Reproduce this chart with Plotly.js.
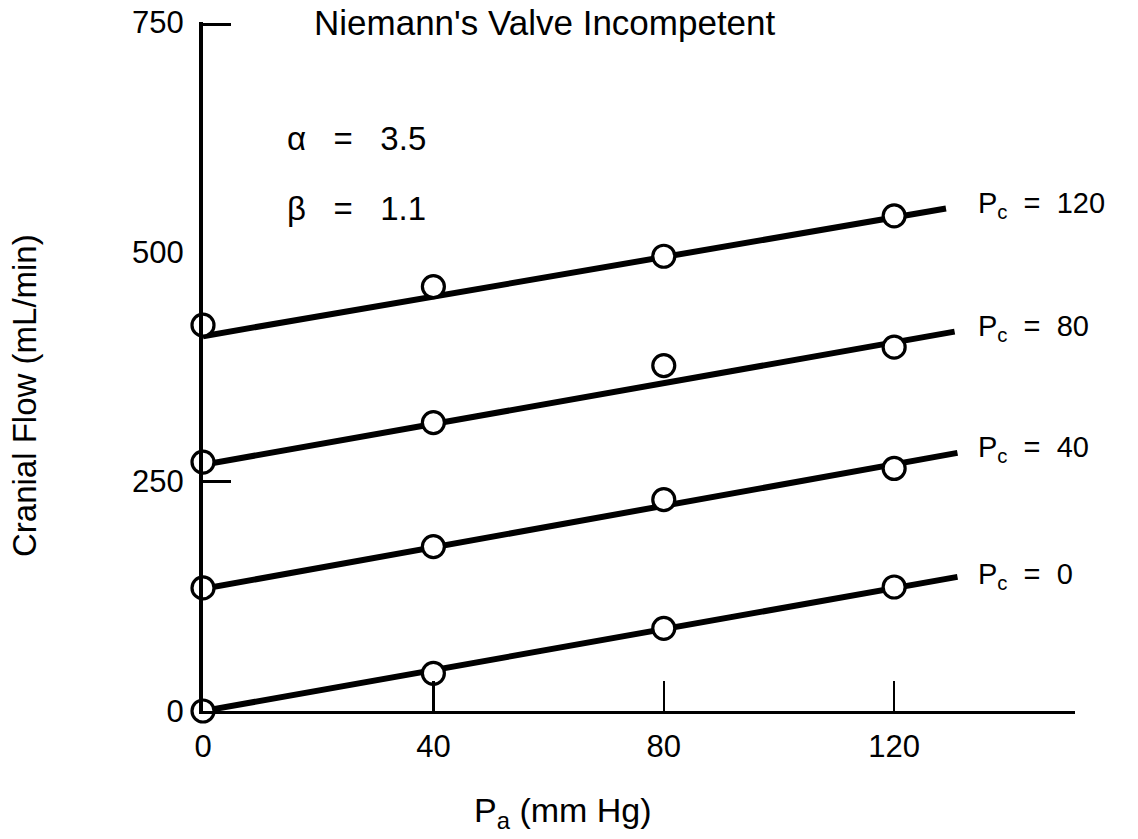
<!DOCTYPE html>
<html>
<head>
<meta charset="utf-8">
<script src="https://cdn.plot.ly/plotly-3.0.1.min.js"></script>
<style>html,body{margin:0;padding:0;background:#fff;}#chart{width:1138px;height:839px;}</style>
</head>
<body>
<div id="chart"></div>
<script>
// Measured data points (P_a in mm Hg, cranial flow in mL/min)
const pa = [0, 40, 80, 120];
const flowPc0   = [0, 41, 90, 135];
const flowPc40  = [134, 179, 230, 264];
const flowPc80  = [271, 314, 376, 396];
const flowPc120 = [420, 462, 495, 539];

// Fitted line endpoints
const fitX0 = [0, 131];   const fitY0 = [0, 146];
const fitX40 = [0, 131];  const fitY40 = [133, 281];
const fitX80 = [0, 130.5]; const fitY80 = [268, 413];
const fitX120 = [0, 129]; const fitY120 = [408, 547];

const NB = "\u00a0";
const pcValues = ["0", "40", "80", "120"];
const seriesLabels = pcValues.map(function (v) { return "P<sub>c</sub>" + NB + NB + "=" + NB + " " + v; });
const labelY = [147, 285, 417, 551];

const xTicks = [0, 40, 80, 120];
const yTicks = [0, 250, 500, 750];
const yTickMarks = [250, 747];

const FONT = "Liberation Sans";

const fits = [[fitX0, fitY0], [fitX40, fitY40], [fitX80, fitY80], [fitX120, fitY120]];
const pts = [flowPc0, flowPc40, flowPc80, flowPc120];

const traces = [];
fits.forEach(function (f) {
  traces.push({x: f[0], y: f[1], mode: 'lines', type: 'scatter',
    line: {color: '#000', width: 6}, hoverinfo: 'skip', cliponaxis: false, showlegend: false});
});
pts.forEach(function (p) {
  traces.push({x: pa, y: p, mode: 'markers', type: 'scatter',
    marker: {symbol: 'circle', size: 22, color: '#fff', line: {color: '#000', width: 3.2}},
    cliponaxis: false, showlegend: false});
});
// invisible trace on overlay axis carrying the y tick marks
traces.push({x: [0], y: [0], yaxis: 'y2', mode: 'markers', marker: {opacity: 0}, hoverinfo: 'skip', showlegend: false});

const plotW = 1138 - 203 - 63, plotH = 839 - 22 - 128;

const annotations = seriesLabels.map(function (t, i) {
  return {x: 134.2, y: labelY[i], xref: 'x', yref: 'y', text: t, showarrow: false,
    xanchor: 'left', yanchor: 'middle', font: {family: FONT, size: 29, color: '#000'}};
});
annotations.push({x: 19, y: 750, xref: 'x', yref: 'y', text: "Niemann's Valve Incompetent",
  showarrow: false, xanchor: 'left', yanchor: 'middle', font: {family: FONT, size: 35, color: '#000'}});
annotations.push({x: 14.3, y: 623, xref: 'x', yref: 'y', text: "\u03b1" + NB+NB+NB + "=" + NB+NB+NB + "3.5",
  showarrow: false, xanchor: 'left', yanchor: 'middle', font: {family: FONT, size: 33, color: '#000'}});
annotations.push({x: 14.3, y: 547, xref: 'x', yref: 'y', text: "\u03b2" + NB+NB+NB + "=" + NB+NB+NB + "1.1",
  showarrow: false, xanchor: 'left', yanchor: 'middle', font: {family: FONT, size: 33, color: '#000'}});
annotations.push({x: (563 - 203) / plotW, y: -(812 - 711) / plotH, xref: 'paper', yref: 'paper',
  text: "P<sub>a</sub> (mm Hg)", showarrow: false, xanchor: 'center', yanchor: 'middle',
  font: {family: FONT, size: 34, color: '#000'}});
annotations.push({x: -(203 - 24) / plotW, y: (711 - 396) / plotH, xref: 'paper', yref: 'paper',
  text: "Cranial Flow (mL/min)", textangle: -90, showarrow: false, xanchor: 'center', yanchor: 'middle',
  font: {family: FONT, size: 33, color: '#000'}});

const layout = {
  width: 1138, height: 839,
  margin: {l: 203, r: 63, t: 22, b: 128},
  paper_bgcolor: '#fff', plot_bgcolor: '#fff',
  showlegend: false,
  xaxis: {
    range: [0, 151.4], tickvals: xTicks, ticktext: xTicks.map(String),
    ticks: 'inside', ticklen: 30, tickwidth: 2.5, tickcolor: '#000',
    showline: true, linecolor: '#000', linewidth: 2.5, showgrid: false, zeroline: false,
    tickfont: {family: FONT, size: 31, color: '#000'}, ticklabelstandoff: 6,
    title: {text: ''}
  },
  yaxis: {
    range: [0, 750], tickvals: yTicks, ticktext: yTicks.map(String),
    ticks: '', showline: true, linecolor: '#000', linewidth: 4, showgrid: false, zeroline: false,
    tickfont: {family: FONT, size: 31, color: '#000'}, ticklabelstandoff: 9,
    title: {text: ''}
  },
  yaxis2: {
    overlaying: 'y', side: 'left', range: [0, 750], tickvals: yTickMarks, showticklabels: false,
    ticks: 'inside', ticklen: 28, tickwidth: 3, tickcolor: '#000',
    showline: false, showgrid: false, zeroline: false
  },
  annotations: annotations
};

Plotly.newPlot('chart', traces, layout, {displayModeBar: false, staticPlot: true});
</script>
</body>
</html>
